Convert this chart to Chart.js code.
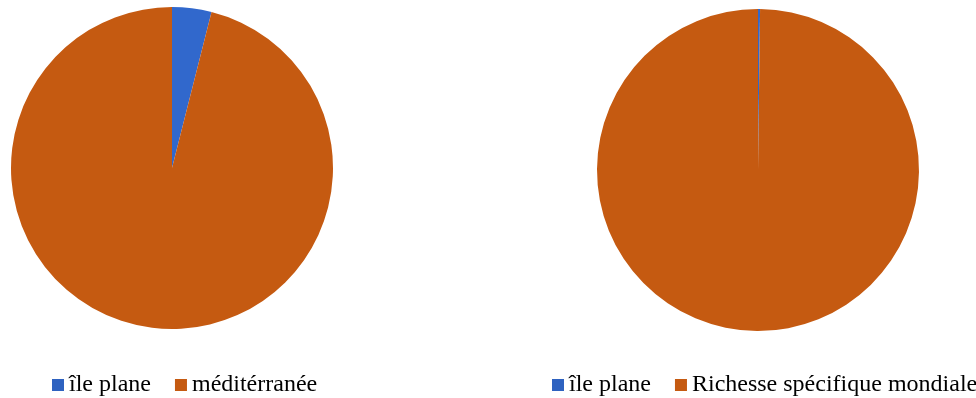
<!DOCTYPE html>
<html>
<head>
<meta charset="UTF-8">
<title>Richesse spécifique</title>
<script src="https://cdn.jsdelivr.net/npm/chart.js@4/dist/chart.umd.min.js"></script>
<style>
    body {
        margin: 0;
        width: 976px;
        height: 398px;
        background: #ffffff;
        position: relative;
        overflow: hidden;
    }
    .panel {
        position: absolute;
        top: 0;
        width: 488px;
        height: 398px;
    }
</style>
</head>
<body>
    <div class="panel" style="left: 0px;"><canvas id="pieLeft"></canvas></div>
    <div class="panel" style="left: 488px;"><canvas id="pieRight"></canvas></div>

<script>
    // species counts
    const leftLabels = ['île plane', 'méditérranée'];
    const leftValues = [37, 900];

    const rightLabels = ['île plane', 'Richesse spécifique mondiale'];
    const rightValues = [37, 18000];

    const sliceColors = ['#3168CC', '#C55A11'];
    const boxColors = ['#2E62C0', '#C55A11'];

    // horizontal legend under the pie: small square, then label, in a serif face
    const keyRow = {
        id: 'keyRow',
        afterDraw(chart, args, opts) {
            const ctx = chart.ctx;
            const labels = chart.data.labels;
            ctx.save();
            ctx.font = "24px 'Liberation Serif'";
            ctx.textBaseline = 'alphabetic';
            ctx.textAlign = 'left';
            let x = opts.x;
            labels.forEach((label, i) => {
                ctx.fillStyle = boxColors[i];
                ctx.fillRect(x, opts.y - 12, 12, 12);
                ctx.fillStyle = '#000000';
                ctx.fillText(label, x + 17, opts.y);
                x += 17 + ctx.measureText(label).width + 24;
            });
            ctx.restore();
        }
    };

    function makePie(id, labels, values, padding, key) {
        return new Chart(document.getElementById(id), {
            type: 'pie',
            data: {
                labels: labels,
                datasets: [{
                    data: values,
                    backgroundColor: sliceColors,
                    borderWidth: 0,
                    hoverOffset: 0,
                    offset: 0
                }]
            },
            options: {
                responsive: true,
                maintainAspectRatio: false,
                animation: false,
                layout: { padding: padding },
                events: [],
                plugins: {
                    legend: { display: false },
                    tooltip: { enabled: false },
                    keyRow: key
                }
            },
            plugins: [keyRow]
        });
    }

    makePie('pieLeft', leftLabels, leftValues,
        { left: 11, top: 7, right: 155, bottom: 69 }, { x: 52, y: 391 });
    makePie('pieRight', rightLabels, rightValues,
        { left: 109, top: 9, right: 57, bottom: 67 }, { x: 64, y: 391 });
</script>
</body>
</html>
